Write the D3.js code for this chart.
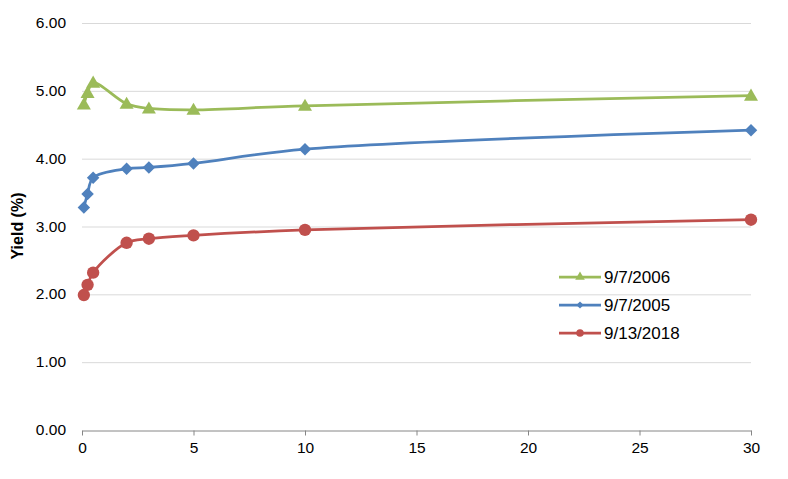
<!DOCTYPE html>
<html><head><meta charset="utf-8">
<script src="https://cdn.jsdelivr.net/npm/d3@7"></script>
<style>body{margin:0;background:#fff;} text{font-family:"Liberation Sans",Arial,sans-serif;}</style>
</head><body><svg id="c" width="788" height="479"></svg>
<script>
const maturities = [1/12, 0.25, 0.5, 2, 3, 5, 10, 30];
const s2006 = [4.80, 4.97, 5.12, 4.81, 4.74, 4.72, 4.78, 4.93];
const s2005 = [3.28, 3.48, 3.72, 3.85, 3.87, 3.93, 4.14, 4.42];
const s2018 = [1.99, 2.14, 2.32, 2.76, 2.82, 2.87, 2.95, 3.10];
const seriesNames = ["9/7/2006", "9/7/2005", "9/13/2018"];
const seriesColors = ["#9BBB59", "#4F81BD", "#C0504D"];
const seriesMarkers = ["triangle", "diamond", "circle"];
const xTicks = [0, 5, 10, 15, 20, 25, 30];
const yTicks = [0, 1, 2, 3, 4, 5, 6];

const svg = d3.select("#c");
const x = d3.scaleLinear().domain([0, 30]).range([82, 751]);
const y = d3.scaleLinear().domain([0, 6]).range([430, 23]);

// gridlines
svg.append("g").selectAll("line").data(yTicks.filter(d => d > 0)).join("line")
  .attr("x1", x(0)).attr("x2", x(30))
  .attr("y1", d => y(d) + 0.5).attr("y2", d => y(d) + 0.5)
  .attr("stroke", "#D9D9D9").attr("stroke-width", 1);

// y labels
svg.append("g").selectAll("text").data(yTicks).join("text")
  .attr("x", 66).attr("y", d => y(d) + 5)
  .attr("text-anchor", "end").attr("font-size", 15.5).attr("fill", "#000")
  .text(d => d.toFixed(2));

// x axis
const xa = svg.append("g").attr("transform", "translate(0,430.5)")
  .call(d3.axisBottom(x).tickValues(xTicks).tickSize(5).tickSizeOuter(0).tickPadding(6));
xa.select(".domain").attr("stroke", "#868686");
xa.selectAll(".tick line").attr("stroke", "#868686");
xa.selectAll(".tick text").attr("font-size", 15.5).attr("fill", "#000")
  .attr("font-family", "'Liberation Sans',Arial,sans-serif");

// y title
svg.append("text").attr("transform", "translate(23,226) rotate(-90)")
  .attr("text-anchor", "middle").attr("font-size", 16).attr("font-weight", "bold")
  .text("Yield (%)");

const seriesData = [s2006, s2005, s2018];
const line = d3.line().x(d => x(d[0])).y(d => y(d[1])).curve(d3.curveCatmullRom.alpha(0.5));
const sym = {
  triangle: d3.symbol().type(d3.symbolTriangle).size(85),
  diamond: d3.symbol().type(d3.symbolSquare).size(78),
  circle: d3.symbol().type(d3.symbolCircle).size(120)
};
const rot = { triangle: "", diamond: " rotate(45)", circle: "" };

seriesData.forEach((vals, i) => {
  const pts = maturities.map((m, j) => [m, vals[j]]);
  const g = svg.append("g");
  g.append("path").attr("d", line(pts)).attr("fill", "none")
    .attr("stroke", seriesColors[i]).attr("stroke-width", 2.75);
  g.selectAll("path.m").data(pts).join("path").attr("class", "m")
    .attr("transform", d => `translate(${x(d[0])},${y(d[1]) + (seriesMarkers[i] === "triangle" ? 1 : 0)})${rot[seriesMarkers[i]]}`)
    .attr("d", sym[seriesMarkers[i]]()).attr("fill", seriesColors[i]);
});

// legend
const leg = svg.append("g");
seriesNames.forEach((n, i) => {
  const ly = 277 + i * 28;
  leg.append("line").attr("x1", 559).attr("x2", 601).attr("y1", ly).attr("y2", ly)
    .attr("stroke", seriesColors[i]).attr("stroke-width", 2.75);
  const m = seriesMarkers[i];
  const s = m === "triangle" ? d3.symbol().type(d3.symbolTriangle).size(40)
    : m === "diamond" ? d3.symbol().type(d3.symbolSquare).size(26)
    : d3.symbol().type(d3.symbolCircle).size(45);
  leg.append("path").attr("transform", `translate(580,${ly})${rot[m]}`).attr("d", s()).attr("fill", seriesColors[i]);
  leg.append("text").attr("x", 604).attr("y", ly + 6).attr("font-size", 17).text(n);
});
</script></body></html>
